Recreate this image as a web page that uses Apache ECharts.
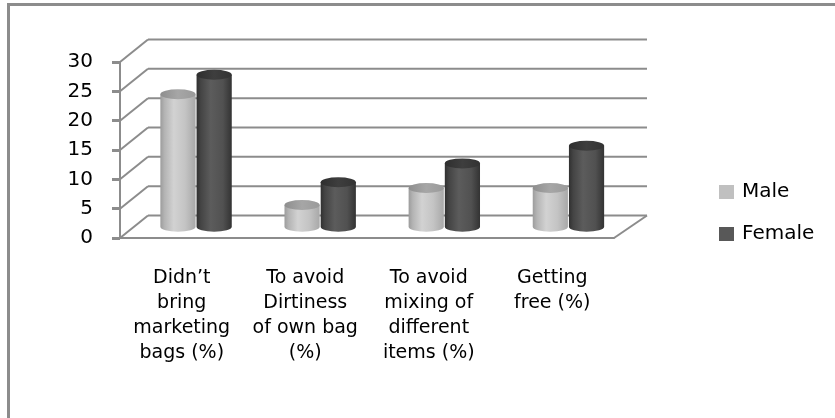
<!DOCTYPE html>
<html>
<head>
<meta charset="utf-8">
<script src="https://cdn.jsdelivr.net/npm/echarts@6/dist/echarts.min.js"></script>
<style>
  html, body { margin: 0; padding: 0; background: #fff; }
  #chart { width: 835px; height: 418px; }
</style>
</head>
<body>
<div id="chart"></div>
<script>
// Reasons for taking bags, by gender
const categories = [
  'Didn\u2019t\nbring\nmarketing\nbags (%)',
  'To avoid\nDirtiness\nof own bag\n(%)',
  'To avoid\nmixing of\ndifferent\nitems (%)',
  'Getting\nfree (%)'
];
const seriesNames = ['Male', 'Female'];
const maleValues = [22.6, 3.7, 6.6, 6.6];
const femaleValues = [25.9, 7.6, 10.8, 13.8];
const yTicks = [0, 5, 10, 15, 20, 25, 30];

// depth of the pseudo-3D box (back wall offset from the front plane)
const DEPTH_LEFT = 28, DEPTH_RIGHT = 33, DEPTH_UP = -22.5;
const FRAME = '#8c8c8c';
const FONT = '"DejaVu Sans", sans-serif';

const chart = echarts.init(document.getElementById('chart'));

// Back wall gridlines, side-wall diagonals and floor edge
function renderFrame(params, api) {
  const cs = params.coordSys;
  const v = api.value(1);
  const yf = api.coord([0, v])[1];
  const xl = cs.x, xr = cs.x + cs.width;
  const yb = yf + DEPTH_UP;
  const style = { stroke: FRAME, lineWidth: 2, fill: null };
  const children = [
    { type: 'line', shape: { x1: xl, y1: yf, x2: xl + DEPTH_LEFT, y2: yb }, style },
    { type: 'line', shape: { x1: xl + DEPTH_LEFT, y1: yb, x2: xr + DEPTH_RIGHT, y2: yb }, style }
  ];
  if (v === 0) {
    children.push({ type: 'line', shape: { x1: xr, y1: yf, x2: xr + DEPTH_RIGHT, y2: yb }, style });
  }
  return { type: 'group', children };
}

// Cylinder columns placed half way into the box depth
function cylinderRenderer(side, bodyStops, topStops) {
  return function (params, api) {
    const idx = api.value(0);
    const val = api.value(1);
    const band = api.size([1, 0])[0];
    const w = band * 0.285;
    const rx = w / 2, ry = 5;
    const base = api.coord([idx, 0]);
    const top = api.coord([idx, val]);
    const t = (base[0] - params.coordSys.x) / params.coordSys.width;
    const shiftX = (DEPTH_LEFT + (DEPTH_RIGHT - DEPTH_LEFT) * t) / 2;
    const shiftY = DEPTH_UP / 2;
    const cx = base[0] + shiftX + side * (rx + 0.5);
    const yb = base[1] + shiftY;
    const yt = top[1] + shiftY;
    const xl = cx - rx, xr = cx + rx;
    const body = 'M' + xl + ' ' + yt + ' L' + xl + ' ' + yb +
      ' A' + rx + ' ' + ry + ' 0 0 0 ' + xr + ' ' + yb +
      ' L' + xr + ' ' + yt + ' Z';
    const cap = 'M' + xl + ' ' + yt +
      ' A' + rx + ' ' + ry + ' 0 1 0 ' + xr + ' ' + yt +
      ' A' + rx + ' ' + ry + ' 0 1 0 ' + xl + ' ' + yt + ' Z';
    return {
      type: 'group',
      children: [
        { type: 'path', shape: { pathData: body },
          style: { fill: new echarts.graphic.LinearGradient(0, 0, 1, 0, bodyStops) } },
        { type: 'path', shape: { pathData: cap },
          style: { fill: new echarts.graphic.LinearGradient(0, 0, 1, 0, topStops) } }
      ]
    };
  };
}

const maleBody = [
  { offset: 0, color: '#9c9c9c' }, { offset: 0.12, color: '#b4b4b4' },
  { offset: 0.38, color: '#d2d2d2' }, { offset: 0.7, color: '#c4c4c4' },
  { offset: 1, color: '#a8a8a8' }
];
const maleTop = [
  { offset: 0, color: '#8e8e8e' }, { offset: 0.5, color: '#a6a6a6' }, { offset: 1, color: '#9a9a9a' }
];
const femaleBody = [
  { offset: 0, color: '#303030' }, { offset: 0.12, color: '#444444' },
  { offset: 0.4, color: '#5c5c5c' }, { offset: 0.75, color: '#515151' },
  { offset: 1, color: '#333333' }
];
const femaleTop = [
  { offset: 0, color: '#2e2e2e' }, { offset: 0.5, color: '#3e3e3e' }, { offset: 1, color: '#333333' }
];

chart.setOption({
  animation: false,
  backgroundColor: '#ffffff',
  grid: { left: 120, right: 221, top: 62, bottom: 180 },
  legend: {
    data: seriesNames,
    orient: 'vertical',
    left: 719, top: 182,
    padding: 0,
    icon: 'rect',
    itemWidth: 15, itemHeight: 14, itemGap: 22,
    textStyle: { fontSize: 20, fontFamily: FONT, color: '#000', padding: [0, 0, 0, 3] }
  },
  xAxis: {
    type: 'category',
    data: categories,
    boundaryGap: true,
    axisLine: { lineStyle: { color: FRAME, width: 2 } },
    axisTick: { length: 8, lineStyle: { color: FRAME, width: 3 } },
    axisLabel: {
      interval: 0, margin: 28, fontSize: 19, lineHeight: 25,
      fontFamily: FONT, color: '#000', align: 'center'
    },
    splitLine: { show: false }
  },
  yAxis: {
    type: 'value',
    min: 0, max: 30, interval: 5,
    axisLine: { show: true, lineStyle: { color: FRAME, width: 2 } },
    axisTick: { show: true, length: 8, lineStyle: { color: FRAME, width: 3 } },
    axisLabel: { margin: 27, fontSize: 20, fontFamily: FONT, color: '#000' },
    splitLine: { show: false }
  },
  graphic: [
    { type: 'line', shape: { x1: 8.5, y1: 4, x2: 8.5, y2: 418 }, style: { stroke: FRAME, lineWidth: 3 } },
    { type: 'line', shape: { x1: 7, y1: 4.5, x2: 835, y2: 4.5 }, style: { stroke: FRAME, lineWidth: 3 } }
  ],
  series: [
    {
      name: 'frame', type: 'custom', z: 1, silent: true,
      data: yTicks.map(v => [0, v]),
      renderItem: renderFrame
    },
    {
      name: seriesNames[0], type: 'custom', z: 3,
      itemStyle: { color: '#c0c0c0' },
      data: maleValues.map((v, i) => [i, v]),
      renderItem: cylinderRenderer(-1, maleBody, maleTop)
    },
    {
      name: seriesNames[1], type: 'custom', z: 3,
      itemStyle: { color: '#585858' },
      data: femaleValues.map((v, i) => [i, v]),
      renderItem: cylinderRenderer(1, femaleBody, femaleTop)
    }
  ]
});
</script>
</body>
</html>
